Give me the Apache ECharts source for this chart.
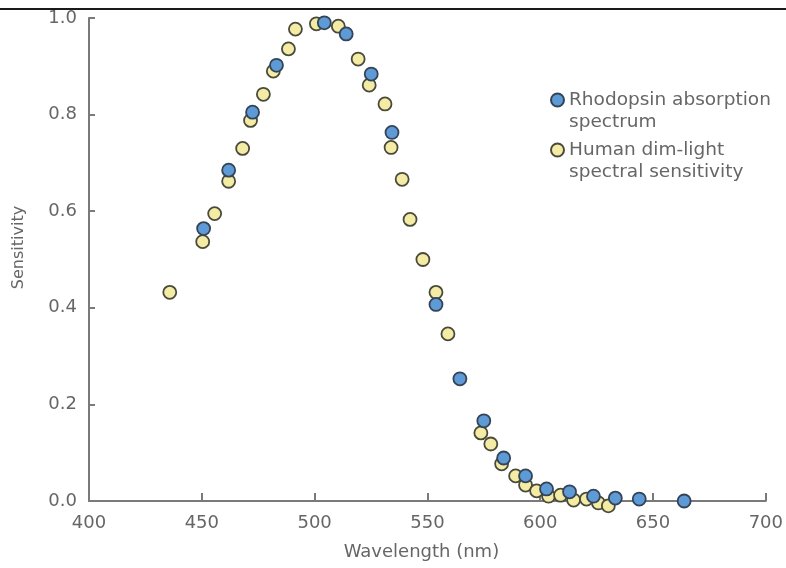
<!DOCTYPE html>
<html>
<head>
<meta charset="utf-8">
<script src="https://cdn.jsdelivr.net/npm/echarts@6/dist/echarts.min.js"></script>
<style>
  html, body { margin: 0; padding: 0; background: #ffffff; }
  #chart { width: 786px; height: 568px; }
</style>
</head>
<body>
<div id="chart"></div>
<script>
// Rhodopsin absorption spectrum (blue) measured at these wavelengths (nm)
const rhodopsinWavelength = [450.8, 461.9, 472.5, 483.1, 504.3, 514.0, 525.1, 534.3, 553.8, 564.4,
  575.0, 583.8, 593.5, 602.8, 613.0, 623.6, 633.3, 643.9, 663.8];
const rhodopsinSensitivity = [0.564, 0.685, 0.805, 0.902, 0.990, 0.967, 0.884, 0.763, 0.407, 0.253,
  0.166, 0.089, 0.052, 0.025, 0.019, 0.010, 0.006, 0.004, 0.0];

// Human dim-light (scotopic) spectral sensitivity (yellow)
const humanWavelength = [435.8, 450.4, 455.7, 461.9, 468.1, 471.6, 477.3, 481.7, 488.4, 491.5,
  500.8, 510.5, 519.3, 524.2, 531.2, 533.9, 538.8, 542.3, 548.0, 553.8,
  559.1, 573.7, 578.1, 582.9, 589.1, 593.5, 598.4, 603.7, 609.0, 614.8,
  620.5, 625.8, 630.2];
const humanSensitivity = [0.432, 0.537, 0.595, 0.662, 0.730, 0.788, 0.842, 0.890, 0.936, 0.977,
  0.988, 0.983, 0.915, 0.861, 0.822, 0.732, 0.666, 0.583, 0.500, 0.432,
  0.346, 0.141, 0.118, 0.077, 0.052, 0.033, 0.021, 0.010, 0.012, 0.002,
  0.004, -0.004, -0.010];

const xTicks = [400, 450, 500, 550, 600, 650, 700];
const yTicks = [0.0, 0.2, 0.4, 0.6, 0.8, 1.0];

const seriesNames = ['Rhodopsin absorption spectrum', 'Human dim-light spectral sensitivity'];
// Leading blank line keeps the first text line level with the legend dot
const legendLabels = {
  'Rhodopsin absorption spectrum': '\nRhodopsin absorption\nspectrum',
  'Human dim-light spectral sensitivity': '\nHuman dim-light\nspectral sensitivity'
};

const zip = (xs, ys) => xs.map((x, i) => [x, ys[i]]);

const FONT = '"DejaVu Sans", sans-serif';
const TEXT = '#666666';
const AXIS = '#7a7a7a';
const LH = 22;

const chart = echarts.init(document.getElementById('chart'), null, { renderer: 'canvas' });

chart.setOption({
  animation: false,
  backgroundColor: '#ffffff',
  textStyle: { fontFamily: FONT },
  grid: { left: 89, right: 18, top: 18, bottom: 67, containLabel: false },
  legend: {
    data: seriesNames,
    orient: 'vertical',
    left: 550,
    top: 67,
    padding: 0,
    itemGap: -16,
    itemWidth: 13,
    itemHeight: 13,
    icon: 'circle',
    formatter: name => legendLabels[name],
    textStyle: {
      fontFamily: FONT,
      fontSize: 18.5,
      color: TEXT,
      lineHeight: LH
    }
  },
  xAxis: {
    type: 'value',
    min: xTicks[0],
    max: xTicks[xTicks.length - 1],
    interval: 50,
    name: 'Wavelength (nm)',
    nameLocation: 'middle',
    nameGap: 42,
    nameTextStyle: { fontFamily: FONT, fontSize: 18, color: TEXT, padding: [0, 12, 0, 0] },
    axisLine: { show: true, lineStyle: { color: AXIS, width: 2 } },
    axisTick: { show: true, inside: true, length: 8, lineStyle: { color: AXIS, width: 2 } },
    axisLabel: { fontFamily: FONT, fontSize: 18, color: TEXT, margin: 13 },
    splitLine: { show: false }
  },
  yAxis: {
    type: 'value',
    min: yTicks[0],
    max: yTicks[yTicks.length - 1],
    interval: 0.2,
    name: 'Sensitivity',
    nameLocation: 'middle',
    nameGap: 62,
    nameTextStyle: { fontFamily: FONT, fontSize: 16, color: TEXT, padding: [0, 0, 0, 24] },
    axisLine: { show: true, lineStyle: { color: AXIS, width: 2 } },
    axisTick: { show: true, inside: true, length: 6, lineStyle: { color: AXIS, width: 2 } },
    axisLabel: {
      fontFamily: FONT, fontSize: 18, color: TEXT, margin: 12,
      formatter: v => v.toFixed(1)
    },
    splitLine: { show: false }
  },
  graphic: [{
    type: 'rect',
    left: 0, top: 8,
    shape: { width: 786, height: 2 },
    style: { fill: '#1a1a1a' },
    silent: true
  }],
  series: [
    {
      name: seriesNames[1],
      type: 'scatter',
      clip: false,
      symbol: 'circle',
      symbolSize: 13,
      itemStyle: { color: '#f4eba4', borderColor: '#4a4a3c', borderWidth: 1.8, opacity: 1 },
      data: zip(humanWavelength, humanSensitivity)
    },
    {
      name: seriesNames[0],
      type: 'scatter',
      clip: false,
      symbol: 'circle',
      symbolSize: 13,
      itemStyle: { color: '#5d9ad6', borderColor: '#344456', borderWidth: 1.8, opacity: 1 },
      data: zip(rhodopsinWavelength, rhodopsinSensitivity)
    }
  ]
});
</script>
</body>
</html>
